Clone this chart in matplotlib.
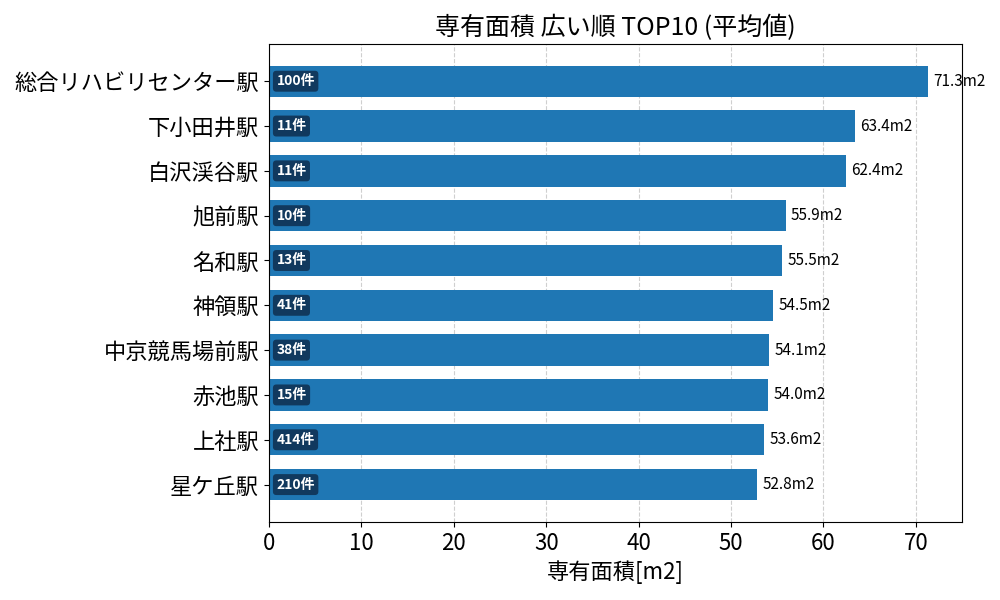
import matplotlib
matplotlib.use("Agg")
import matplotlib.pyplot as plt

plt.rcParams['font.family'] = ['Noto Sans CJK JP', 'DejaVu Sans']

stations = ['総合リハビリセンター駅', '下小田井駅', '白沢渓谷駅', '旭前駅', '名和駅',
            '神領駅', '中京競馬場前駅', '赤池駅', '上社駅', '星ケ丘駅']
areas = [71.3, 63.4, 62.4, 55.9, 55.5, 54.5, 54.1, 54.0, 53.6, 52.8]
counts = [100, 11, 11, 10, 13, 41, 38, 15, 414, 210]

fig, ax = plt.subplots(figsize=(10, 6), dpi=100)
fig.subplots_adjust(left=0.269, right=0.962, top=0.927, bottom=0.13)

ypos = list(range(len(stations)))[::-1]
ax.barh(ypos, areas, height=0.7, color='#1f77b4', zorder=2)

for y, v, n in zip(ypos, areas, counts):
    ax.text(v + 0.6, y, f'{v:.1f}m2', va='center', ha='left', fontsize=11)
    ax.text(0.8, y, f'{n}件', va='center', ha='left', fontsize=10,
            color='white', fontweight='bold',
            bbox=dict(boxstyle='round,pad=0.25', facecolor='#0f2f4f',
                      edgecolor='none', alpha=0.85))

ax.set_yticks(ypos)
ax.set_yticklabels(stations, fontsize=16)
ax.set_xlim(0, 75)
ax.tick_params(axis='x', labelsize=16)
ax.set_xlabel('専有面積[m2]', fontsize=16)
ax.set_title('専有面積 広い順 TOP10 (平均値)', fontsize=18)
ax.grid(axis='x', linestyle='--', alpha=0.6, zorder=0)
ax.set_axisbelow(True)

fig.savefig('out.png')
